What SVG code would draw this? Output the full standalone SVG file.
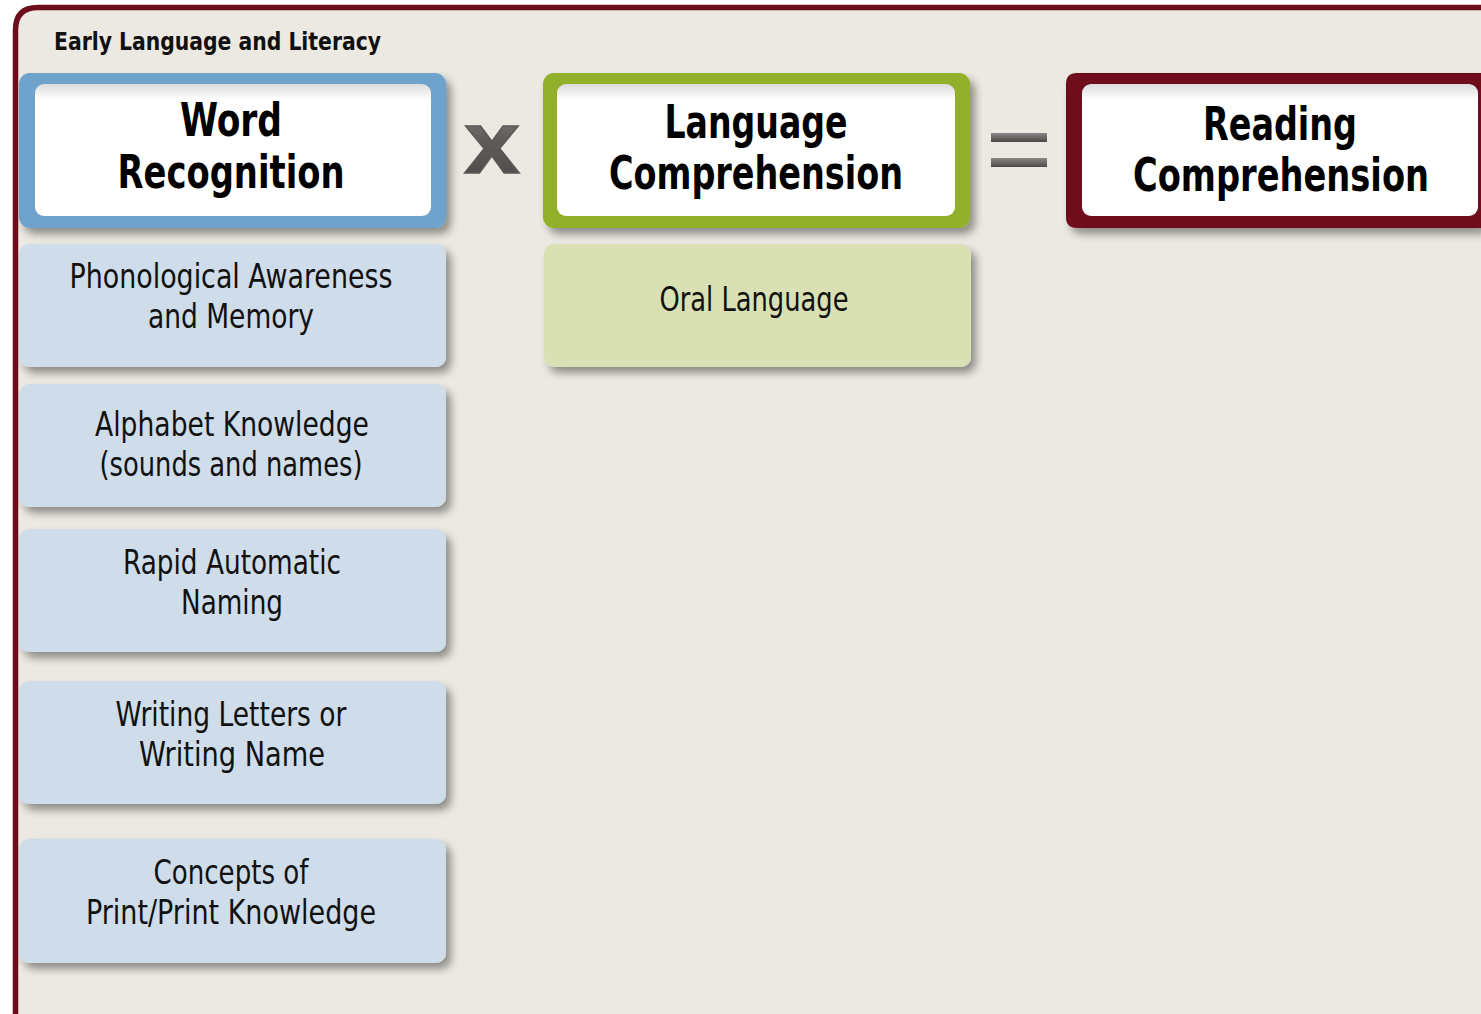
<svg xmlns="http://www.w3.org/2000/svg" width="1481" height="1014" viewBox="0 0 1481 1014">
<defs>
<filter id="sh" x="-10%" y="-20%" width="130%" height="150%">
<feGaussianBlur in="SourceAlpha" stdDeviation="4"/>
<feOffset dx="5" dy="6" result="b"/>
<feComponentTransfer><feFuncA type="linear" slope="0.4"/></feComponentTransfer>
<feMerge><feMergeNode/><feMergeNode in="SourceGraphic"/></feMerge>
</filter>
<linearGradient id="inner" x1="0" y1="0" x2="0" y2="1">
<stop offset="0" stop-color="#dcdcdc"/>
<stop offset="0.12" stop-color="#ffffff"/>
<stop offset="1" stop-color="#ffffff"/>
</linearGradient>
<linearGradient id="op" x1="0" y1="0" x2="0" y2="1">
<stop offset="0" stop-color="#8c8a88"/>
<stop offset="0.5" stop-color="#5d5b59"/>
<stop offset="1" stop-color="#4a4847"/>
</linearGradient>
<linearGradient id="bar" x1="0" y1="0" x2="0" y2="1">
<stop offset="0" stop-color="#8c8a88"/>
<stop offset="1" stop-color="#4a4847"/>
</linearGradient>
</defs>
<style>
.t{font-family:"Liberation Sans Narrow","DejaVu Sans Condensed","Liberation Sans",sans-serif;font-stretch:condensed;fill:#111;text-anchor:middle}
.h{font-weight:bold;font-size:46px;fill:#000}
.s{font-size:33px}
.sub{fill:#cfdce9}
.subg{fill:#d8e0b4}
.in{fill:url(#inner)}
</style>
<rect width="1481" height="1014" fill="#ffffff"/>
<g id="frame">
<path d="M15.5,1014 V30 Q15.5,7.5 38,7.5 H1481 V1014 Z" fill="#ece9e2"/>
<path d="M15.5,1014 V30 Q15.5,7.5 38,7.5 H1481" fill="none" stroke="#6d0d1b" stroke-width="5.5"/>
<text x="54" y="50" font-family="'Liberation Sans Narrow','DejaVu Sans Condensed','Liberation Sans',sans-serif" font-weight="bold" font-size="25" fill="#111" textLength="327" lengthAdjust="spacingAndGlyphs">Early Language and Literacy</text>
</g>
<g id="word-recognition">
<g filter="url(#sh)"><rect x="19" y="73" width="427" height="155" rx="11" fill="#6fa3cb"/></g>
<rect x="35" y="84" width="396" height="132" rx="9" class="in"/>
<text class="t h" x="231" y="136" textLength="102" lengthAdjust="spacingAndGlyphs">Word</text>
<text class="t h" x="231" y="188" textLength="227" lengthAdjust="spacingAndGlyphs">Recognition</text>
</g>
<g id="times">
<text x="492" y="173" font-family="'Liberation Sans',sans-serif" font-weight="bold" font-size="89" fill="url(#op)" stroke="#5a5857" stroke-width="1.5" text-anchor="middle" textLength="56" lengthAdjust="spacingAndGlyphs">x</text>
</g>
<g id="language-comprehension">
<g filter="url(#sh)"><rect x="543" y="73" width="427" height="155" rx="11" fill="#93b02c"/></g>
<rect x="557" y="84" width="398" height="132" rx="9" class="in"/>
<text class="t h" x="756" y="138" textLength="183" lengthAdjust="spacingAndGlyphs">Language</text>
<text class="t h" x="756" y="189" textLength="294" lengthAdjust="spacingAndGlyphs">Comprehension</text>
</g>
<g id="equals">
<rect x="991" y="133" width="56" height="9" fill="url(#bar)"/>
<rect x="991" y="158" width="56" height="9" fill="url(#bar)"/>
</g>
<g id="reading-comprehension">
<g filter="url(#sh)"><path d="M1077,73 H1481 V228 H1077 Q1066,228 1066,217 V84 Q1066,73 1077,73 Z" fill="#6e0c1a"/></g>
<rect x="1082" y="84" width="396" height="132" rx="9" class="in"/>
<text class="t h" x="1280" y="140" textLength="154" lengthAdjust="spacingAndGlyphs">Reading</text>
<text class="t h" x="1281" y="191" textLength="296" lengthAdjust="spacingAndGlyphs">Comprehension</text>
</g>
<g id="phonological-awareness">
<g filter="url(#sh)"><rect x="19" y="244" width="427" height="123" rx="10" class="sub"/></g>
<text class="t s" x="231" y="288" textLength="323" lengthAdjust="spacingAndGlyphs">Phonological Awareness</text>
<text class="t s" x="231" y="328" textLength="166" lengthAdjust="spacingAndGlyphs">and Memory</text>
</g>
<g id="alphabet-knowledge">
<g filter="url(#sh)"><rect x="19" y="384" width="427" height="123" rx="10" class="sub"/></g>
<text class="t s" x="232" y="436" textLength="274" lengthAdjust="spacingAndGlyphs">Alphabet Knowledge</text>
<text class="t s" x="231" y="476" textLength="263" lengthAdjust="spacingAndGlyphs">(sounds and names)</text>
</g>
<g id="rapid-automatic-naming">
<g filter="url(#sh)"><rect x="19" y="529" width="427" height="123" rx="10" class="sub"/></g>
<text class="t s" x="232" y="574" textLength="218" lengthAdjust="spacingAndGlyphs">Rapid Automatic</text>
<text class="t s" x="232" y="614" textLength="102" lengthAdjust="spacingAndGlyphs">Naming</text>
</g>
<g id="writing-letters">
<g filter="url(#sh)"><rect x="19" y="681" width="427" height="123" rx="10" class="sub"/></g>
<text class="t s" x="231" y="726" textLength="231" lengthAdjust="spacingAndGlyphs">Writing Letters or</text>
<text class="t s" x="232" y="766" textLength="186" lengthAdjust="spacingAndGlyphs">Writing Name</text>
</g>
<g id="concepts-of-print">
<g filter="url(#sh)"><rect x="19" y="839" width="427" height="124" rx="10" class="sub"/></g>
<text class="t s" x="231" y="884" textLength="155" lengthAdjust="spacingAndGlyphs">Concepts of</text>
<text class="t s" x="231" y="924" textLength="290" lengthAdjust="spacingAndGlyphs">Print/Print Knowledge</text>
</g>
<g id="oral-language">
<g filter="url(#sh)"><rect x="544" y="244" width="427" height="123" rx="10" class="subg"/></g>
<text class="t s" x="754" y="311" textLength="189" lengthAdjust="spacingAndGlyphs">Oral Language</text>
</g>
<g id="connectors"></g>
</svg>
